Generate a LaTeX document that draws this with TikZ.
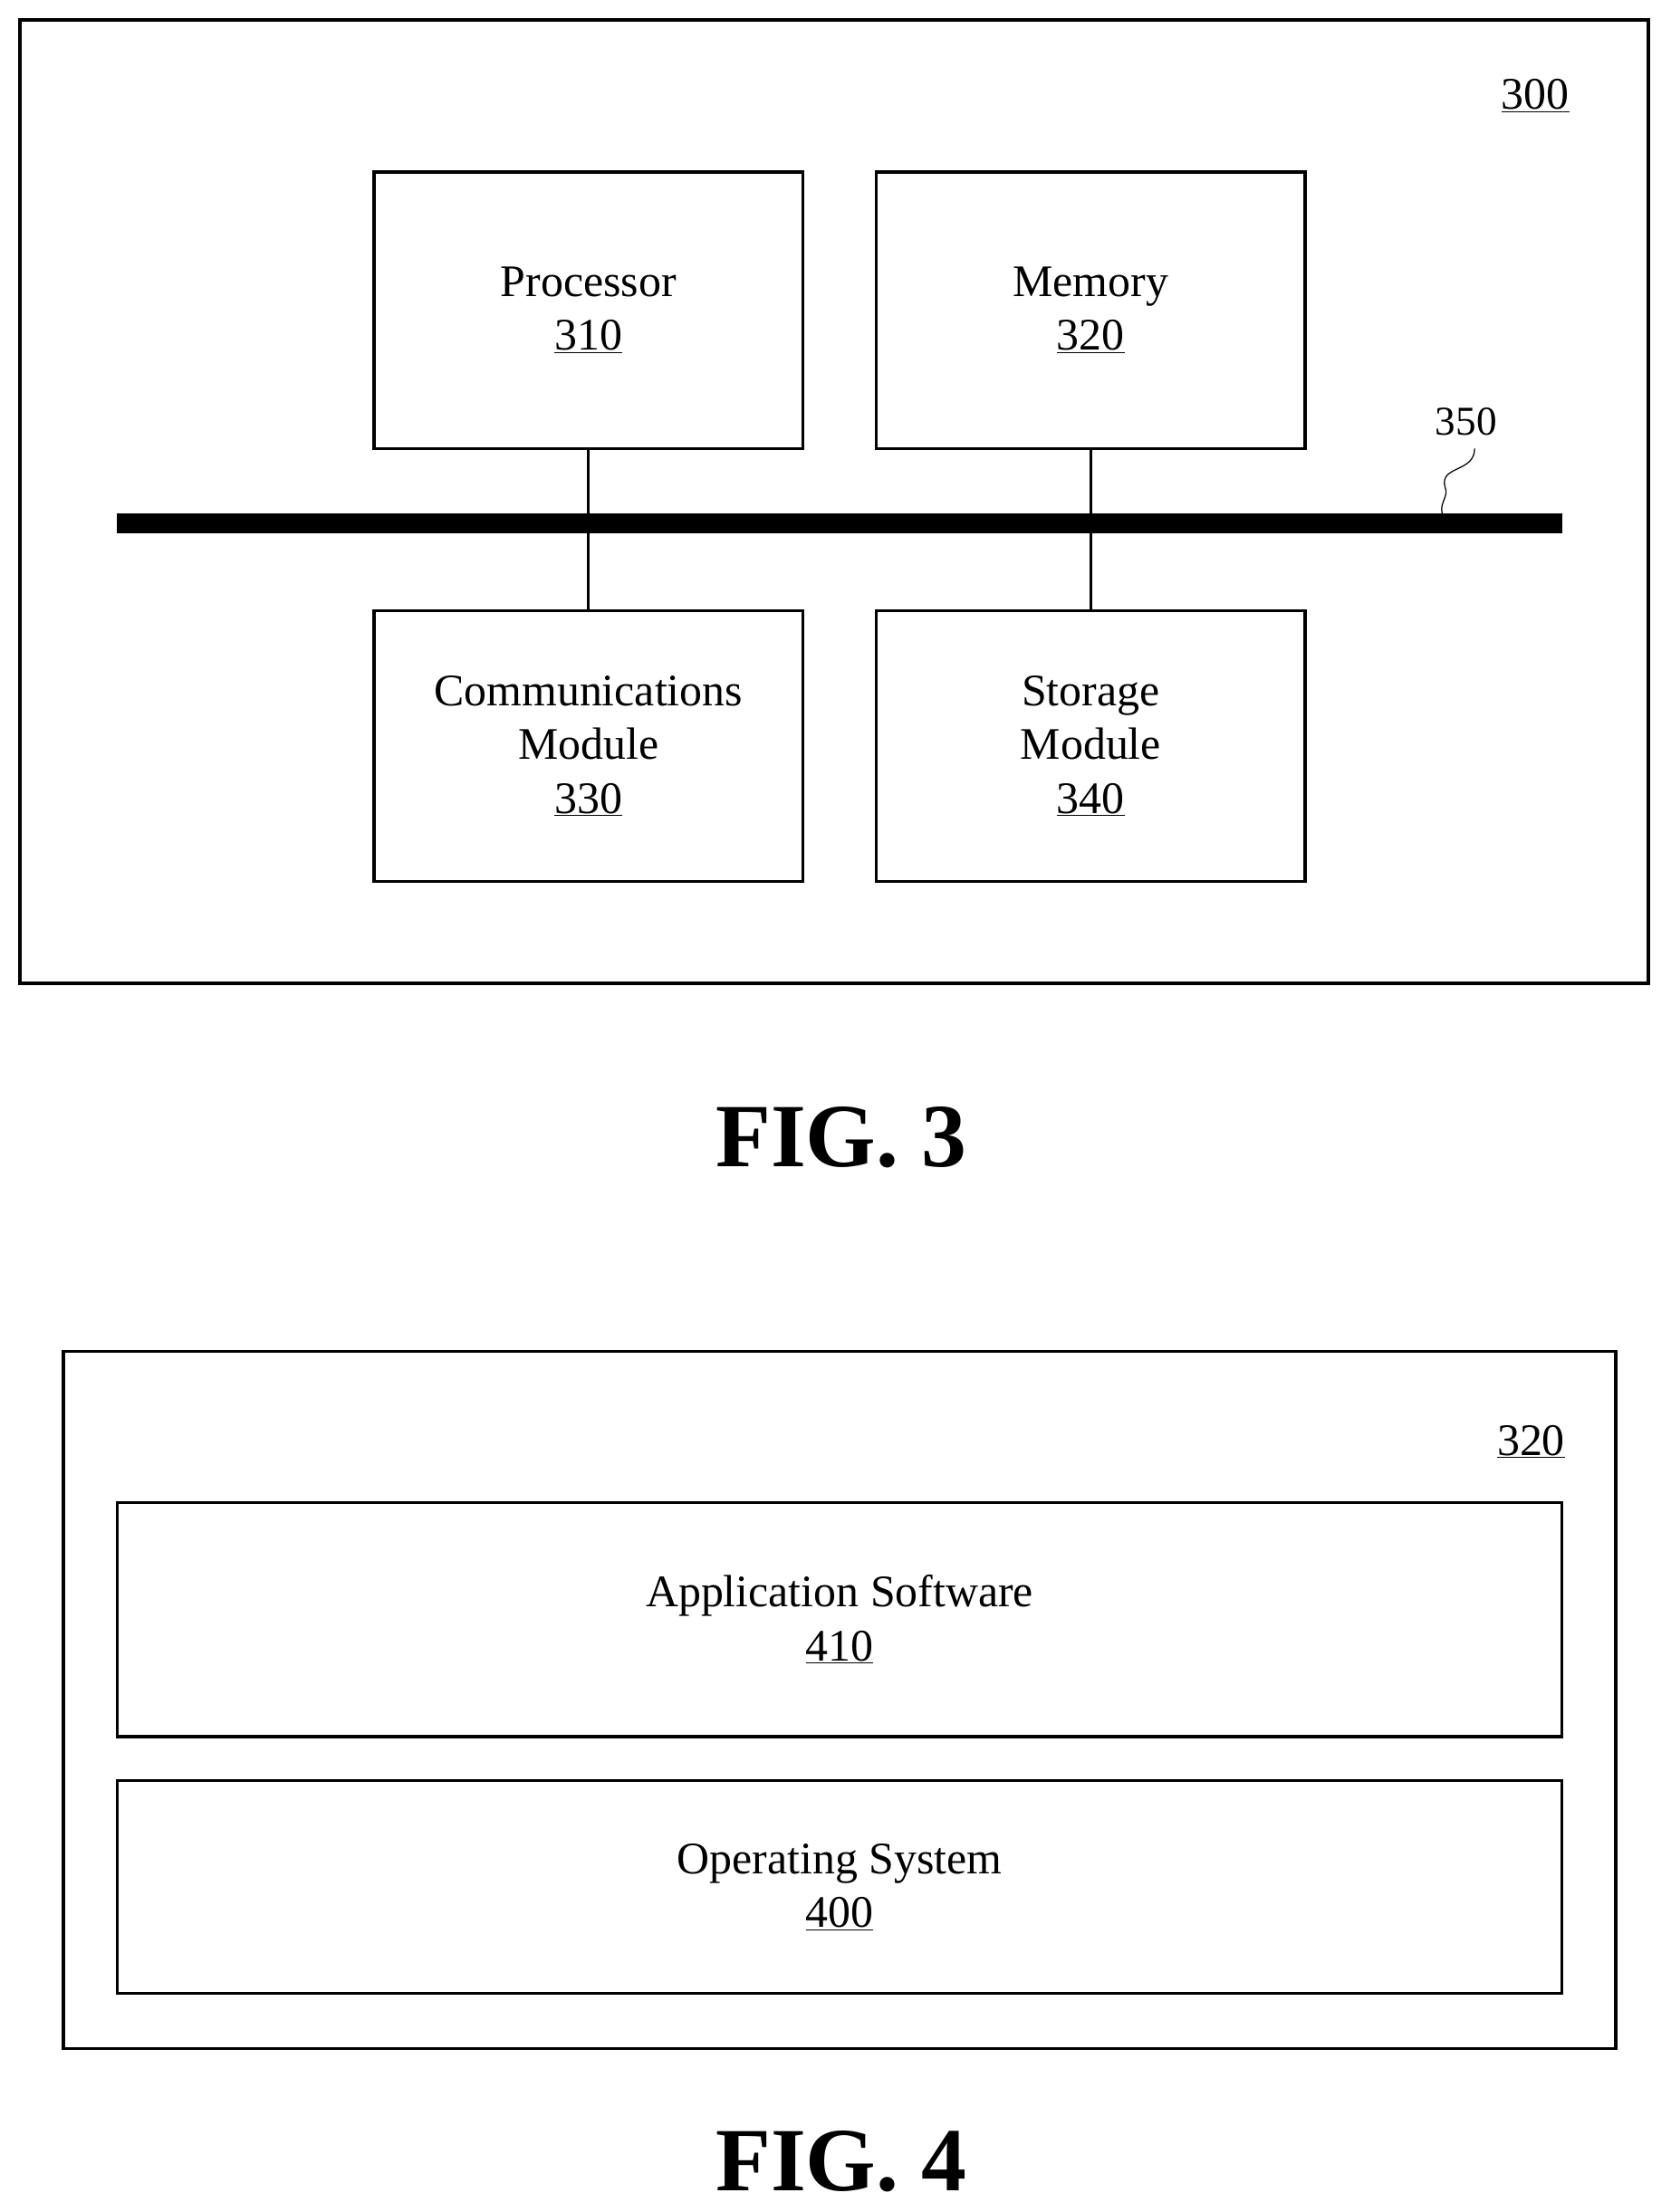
\documentclass[tikz,border=0pt]{standalone}
\usepackage{fontspec}
\setmainfont{Liberation Serif}
\begin{document}
\begin{tikzpicture}[x=1pt,y=-1pt,
  box/.style={draw,line width=2.2pt,rectangle,inner sep=0pt,font=\fontsize{32}{38}\selectfont,align=center},
  lbl/.style={font=\fontsize{32}{38}\selectfont,inner sep=0pt},
  fig/.style={font=\bfseries\fontsize{64}{70}\selectfont,inner sep=0pt}]
\useasboundingbox (0,0) rectangle (1184,1568);
% FIG 3
\node[box,minimum width=1154pt,minimum height=683pt] (outer3) at (591,355.5) {};
\node[lbl] (l300) at (1088,68) {\underline{300}};
\node[box,minimum width=304pt,minimum height=196pt] (proc) at (417,220) {Processor\\\underline{310}};
\node[box,minimum width=304pt,minimum height=196pt] (mem) at (773,220) {Memory\\\underline{320}};
\node[box,minimum width=304pt,minimum height=192pt] (comm) at (417,529) {Communications\\Module\\\underline{330}};
\node[box,minimum width=304pt,minimum height=192pt] (stor) at (773,529) {Storage\\Module\\\underline{340}};
\coordinate (busL) at (83,371);
\coordinate (busR) at (1107,371);
\draw[line width=14pt] (busL) -- (busR);
\draw[line width=2pt] (proc.south) -- (comm.north);
\draw[line width=2pt] (mem.south) -- (stor.north);
\node[lbl,font=\fontsize{29}{38}\selectfont] (l350) at (1039,299) {350};
\coordinate (sq) at (1022,364);
\draw[line width=0.8pt] (1045,318) .. controls (1045,335) and (1020,330) .. (1024,345) .. controls (1027,352) and (1020,356) .. (sq);
\node[fig] (fig3) at (596,806) {FIG. 3};
% FIG 4
\node[box,minimum width=1100pt,minimum height=494pt] (outer4) at (595,1205) {};
\node[lbl] (l320) at (1085,1022) {\underline{320}};
\node[box,minimum width=1024pt,minimum height=166pt] (app) at (595,1148) {Application Software\\\underline{410}};
\node[box,minimum width=1024pt,minimum height=151pt] (os) at (595,1337.5) {Operating System\\\underline{400}};
\node[fig] (fig4) at (596,1532) {FIG. 4};
\end{tikzpicture}
\end{document}
